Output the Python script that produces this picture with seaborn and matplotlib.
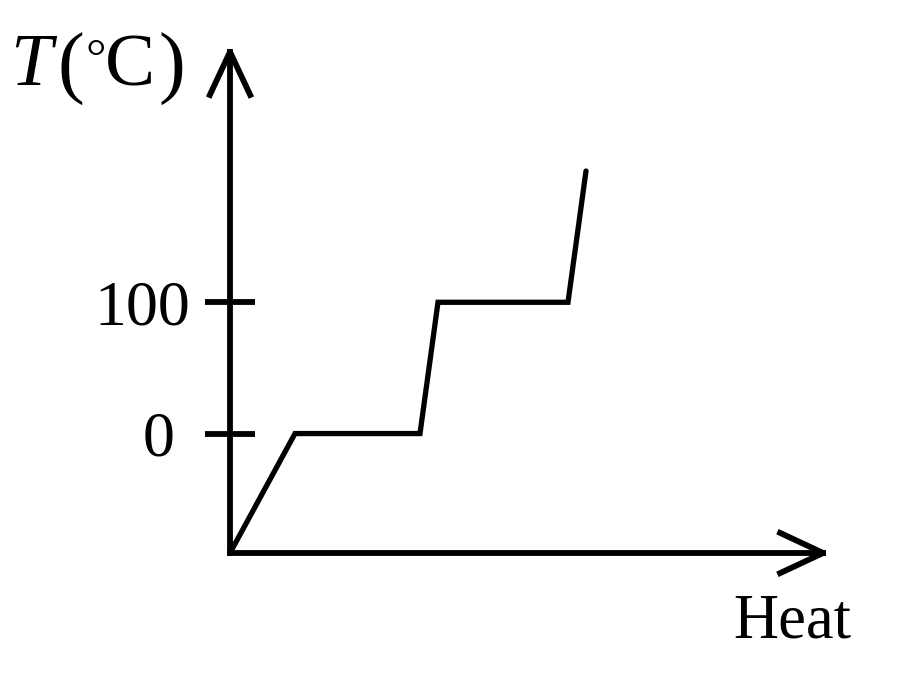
import matplotlib
matplotlib.use("Agg")
import matplotlib.pyplot as plt
from matplotlib.patches import ArrowStyle
from matplotlib.transforms import ScaledTranslation
import seaborn as sns
import pandas as pd

# Data
heat = [0, 6.5, 19.0, 20.8, 33.8, 35.6]
temperature = [-91, 0, 0, 100, 100, 200]
ytick_values = [0, 100]
ytick_labels = ["0", "100"]
x_label = "Heat"

sns.set_style("white")
plt.rcParams["font.family"] = ["Liberation Serif", "DejaVu Serif"]
plt.rcParams["text.color"] = "black"

df = pd.DataFrame({"heat": heat, "temperature": temperature})

fig = plt.figure(figsize=(9, 6.74), dpi=100)
W, H = 900, 674
ax_left, ax_right, ax_top, ax_bottom = 230, 830, 45, 553
ax = fig.add_axes([ax_left / W, (H - ax_bottom) / H,
                   (ax_right - ax_left) / W, (ax_bottom - ax_top) / H])

sns.lineplot(data=df, x="heat", y="temperature", color="black", lw=3.8,
             sort=False, ax=ax, estimator=None)
ax.lines[0].set_solid_joinstyle("miter")
ax.set_xlim(0, 60)
ax.set_ylim(-91, 296)

for s in ax.spines.values():
    s.set_visible(False)

ax.set_xticks([])
ax.set_yticks(ytick_values)
ax.set_yticklabels(ytick_labels, fontsize=46, color="black")
ax.tick_params(axis="y", direction="inout", length=36, width=4.2,
               pad=11, colors="black", left=True)
ax.set_xlabel("")
ax.set_ylabel("")

# the "0" label sits a little further left in the reference
lbl0 = ax.get_yticklabels()[0]
lbl0.set_transform(lbl0.get_transform() + ScaledTranslation(-15 / 100, 0, fig.dpi_scale_trans))

style = ArrowStyle("->", head_length=31, head_width=14.5)
for end in [(1, 0), (0, 1)]:
    ax.annotate("", xy=end, xycoords="axes fraction",
                xytext=(0, 0), textcoords="axes fraction",
                arrowprops=dict(arrowstyle=style, mutation_scale=1,
                                lw=4.2, color="black",
                                shrinkA=0, shrinkB=0,
                                capstyle="projecting"),
                annotation_clip=False)

def fx(px):
    return px / W

def fy(py):
    return (H - py) / H

fig.text(fx(733), fy(637), x_label, fontsize=45, ha="left", va="baseline", color="black")
fig.text(fx(10), fy(85), "T", fontsize=54, style="italic", ha="left", va="baseline", color="black")
fig.text(fx(57), fy(89), "(", fontsize=58, ha="left", va="baseline", color="black")
fig.text(fx(85), fy(73), "°", fontsize=37, ha="left", va="baseline", color="black")
fig.text(fx(105), fy(85), "C", fontsize=54, ha="left", va="baseline", color="black")
fig.text(fx(158), fy(89), ")", fontsize=58, ha="left", va="baseline", color="black")

fig.savefig("out.png", dpi=100)
